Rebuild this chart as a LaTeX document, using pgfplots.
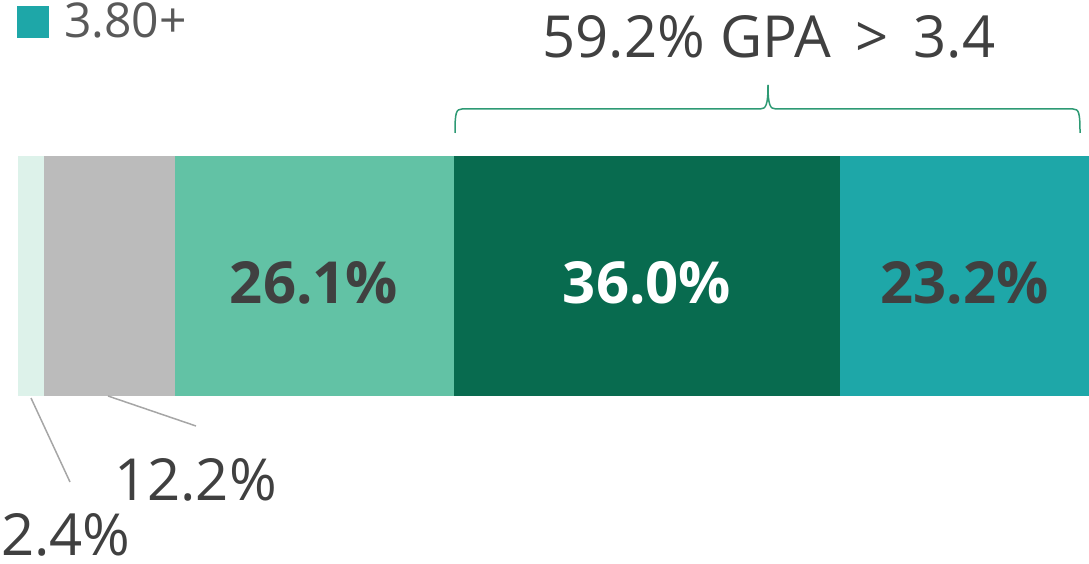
\documentclass[border=0pt]{standalone}
\usepackage{fontspec}
\setmainfont{Open Sans}
\usepackage{pgfplots}
\pgfplotsset{compat=1.18}
\definecolor{cA}{HTML}{DDF2EA}
\definecolor{cB}{HTML}{BBBBBB}
\definecolor{cC}{HTML}{62C2A5}
\definecolor{cD}{HTML}{086B4F}
\definecolor{cE}{HTML}{1EA7A8}
\definecolor{txt}{HTML}{404040}
\definecolor{leg}{HTML}{595959}
\definecolor{lead}{HTML}{A6A6A6}
\definecolor{brace}{HTML}{2E9A74}
\begin{document}
\begin{tikzpicture}[x=1pt,y=1pt]
\begin{axis}[at={(18pt,167pt)}, anchor=south west, width=1071pt, height=240pt,
  scale only axis, xbar stacked, bar width=240pt, xmin=0, xmax=99.9,
  ymin=-0.5, ymax=0.5, hide axis, clip=false, ytick=\empty, xtick=\empty]
\addplot[fill=cA, draw=none] coordinates {(2.4,0)};
\addplot[fill=cB, draw=none] coordinates {(12.2,0)};
\addplot[fill=cC, draw=none] coordinates {(26.1,0)};
\addplot[fill=cD, draw=none] coordinates {(36.0,0)};
\addplot[fill=cE, draw=none] coordinates {(23.2,0)};
\end{axis}
% in-bar labels
\node[anchor=base, inner sep=0pt, text=txt, font=\fontsize{58}{60}\selectfont\bfseries] at (314,260) {26.1\%};
\node[anchor=base, inner sep=0pt, text=white, font=\fontsize{58}{60}\selectfont\bfseries] at (647,260) {36.0\%};
\node[anchor=base, inner sep=0pt, text=txt, font=\fontsize{58}{60}\selectfont\bfseries] at (964.5,260) {23.2\%};
% leader lines and outside labels
\draw[lead, line width=1.5pt] (31,165) -- (70,81);
\draw[lead, line width=1.5pt] (108,167) -- (196,137);
\node[anchor=base west, inner sep=0pt, text=txt, font=\fontsize{58}{60}\selectfont] at (114,63) {12.2\%};
\node[anchor=base west, inner sep=0pt, text=txt, font=\fontsize{58}{60}\selectfont] at (1,8) {2.4\%};
% legend
\fill[cE] (17,525) rectangle (49,557);
\node[anchor=base west, inner sep=0pt, text=leg, font=\fontsize{48}{50}\selectfont] at (64,525) {3.80+};
% brace
\draw[brace, line width=1.5pt] (455,430) .. controls (455,450) and (456,454) .. (462,454) -- (760,454) .. controls (766,454) and (768,458) .. (768,478);
\draw[brace, line width=1.5pt] (1080,430) .. controls (1080,450) and (1079,454) .. (1073,454) -- (776,454) .. controls (770,454) and (768,458) .. (768,478);
\node[anchor=base, inner sep=0pt, text=txt, font=\fontsize{58}{60}\selectfont] at (769,505) {59.2\% GPA \,>\, 3.4};
\pgfresetboundingbox
\useasboundingbox (0,0) rectangle (1089,563);
\end{tikzpicture}
\end{document}
